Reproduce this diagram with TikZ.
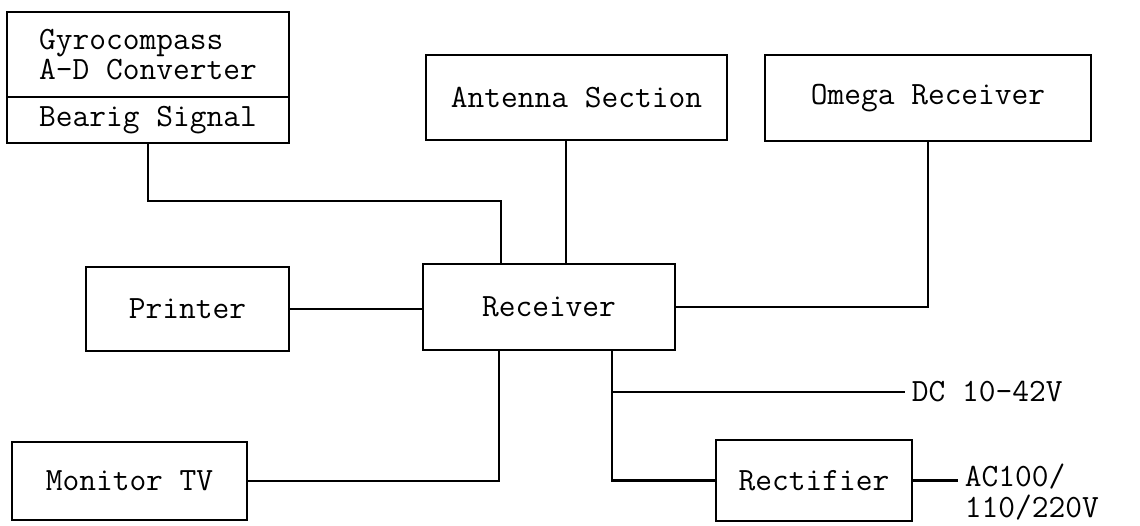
\documentclass[tikz,border=0pt]{standalone}
\usepackage{fontspec}
\usetikzlibrary{positioning}

\begin{document}
\begin{tikzpicture}[line width=1.2pt,
    block/.style={draw, outer sep=0pt, inner sep=0pt, font=\ttfamily\fontsize{18.5}{17.5}\selectfont, align=center},
    sidetext/.style={font=\ttfamily\fontsize{18.5}{18}\selectfont, anchor=west, align=left}]
  \useasboundingbox (0,0) rectangle (22.8,10.5);

  \node[block, minimum width=5.64cm, minimum height=1.7cm, align=left] (gyro) at (2.96,9.41) {Gyrocompass\\A-D Converter};
  \node[block, minimum width=5.64cm, minimum height=0.92cm, below=0pt of gyro] (bearing) {Bearig Signal};
  \node[block, minimum width=6.02cm, minimum height=1.7cm] (antenna) at (11.53,8.55) {Antenna Section};
  \node[block, minimum width=6.52cm, minimum height=1.72cm] (omega) at (18.56,8.54) {Omega Receiver};
  \node[block, minimum width=4.06cm, minimum height=1.68cm] (printer) at (3.75,4.32) {Printer};
  \node[block, minimum width=5.04cm, minimum height=1.72cm] (receiver) at (10.98,4.36) {Receiver};
  \node[block, minimum width=4.7cm, minimum height=1.56cm] (monitor) at (2.59,0.88) {Monitor TV};
  \node[block, minimum width=3.92cm, minimum height=1.62cm] (rectifier) at (16.28,0.89) {Rectifier};
  \node[sidetext] (dc) at (18.1,2.66) {DC 10-42V};
  \node[sidetext] (ac) at (19.16,0.66) {AC100/\\110/220V};

  \draw (bearing.south) -- ++(0,-1.16) -| ([xshift=-9.6mm]receiver.north);
  \draw ([xshift=3.4mm]receiver.north |- antenna.south) -- ([xshift=3.4mm]receiver.north);
  \draw (omega.south) |- (receiver.east);
  \draw (printer.east) -- (printer.east -| receiver.west);
  \draw ([xshift=-10mm]receiver.south) |- (monitor.east);
  \draw ([xshift=12.6mm]receiver.south) |- (rectifier.west);
  \draw ([xshift=12.6mm]receiver.south |- dc.west) -- (dc.west);
  \draw (rectifier.east) -- (rectifier.east -| ac.west);
\end{tikzpicture}
\end{document}
